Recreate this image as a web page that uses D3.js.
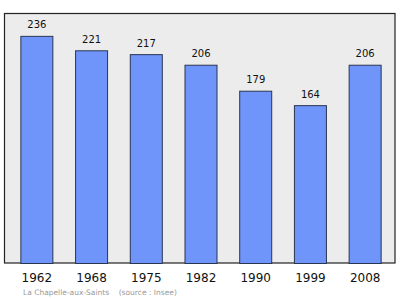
<!DOCTYPE html>
<html><head><meta charset="utf-8">
<script src="https://cdn.jsdelivr.net/npm/d3@7"></script>
<style>html,body{margin:0;padding:0;background:#fff;}svg{display:block;}</style>
</head><body>
<script>
const years = ["1962","1968","1975","1982","1990","1999","2008"];
const population = [236,221,217,206,179,164,206];
const caption = "La Chapelle-aux-Saints    (source : Insee)";

const W = 400, H = 299;
const svg = d3.select("body").append("svg").attr("width", W).attr("height", H);

const frame = {x0: 4.5, y0: 13.5, x1: 395, y1: 263};
svg.append("rect")
  .attr("x", frame.x0).attr("y", frame.y0)
  .attr("width", frame.x1 - frame.x0).attr("height", frame.y1 - frame.y0)
  .attr("fill", "#ececec").attr("stroke", "#222").attr("stroke-width", 1.2);

const x = d3.scaleBand().domain(years).range([9, 392]).paddingInner(0.415).paddingOuter(0.2075);
const y = d3.scaleLinear().domain([0, 259]).range([frame.y1, frame.y1 - 259 * 0.9625]);

svg.selectAll("rect.bar").data(population).join("rect")
  .attr("class", "bar")
  .attr("x", (d, i) => x(years[i]) + 0.5)
  .attr("y", d => y(d) + 0.5)
  .attr("width", x.bandwidth())
  .attr("height", d => y(0) - y(d))
  .attr("fill", "#6f95fb").attr("stroke", "#2a3550").attr("stroke-width", 1);

svg.selectAll("text.val").data(population).join("text")
  .attr("class", "val")
  .attr("x", (d, i) => x(years[i]) + x.bandwidth() / 2 + 0.5)
  .attr("y", d => y(d) - 7.5)
  .attr("text-anchor", "middle")
  .attr("font-family", "DejaVu Sans, sans-serif").attr("font-size", 10)
  .attr("fill", "#111").text(d => d);

const xAxis = d3.axisBottom(x).tickSize(0).tickPadding(0);
const gx = svg.append("g").attr("transform", `translate(0.5,${frame.y1})`).call(xAxis);
gx.select(".domain").remove();
gx.selectAll("text").attr("dy", null).attr("y", 19)
  .attr("font-family", "DejaVu Sans, sans-serif").attr("font-size", 12).attr("fill", "#111");

svg.append("text").attr("x", 23).attr("y", 295)
  .attr("font-family", "DejaVu Sans, sans-serif").attr("font-size", 7.5)
  .attr("fill", "#999").attr("xml:space", "preserve").style("white-space", "pre").text(caption);
</script>
</body></html>
